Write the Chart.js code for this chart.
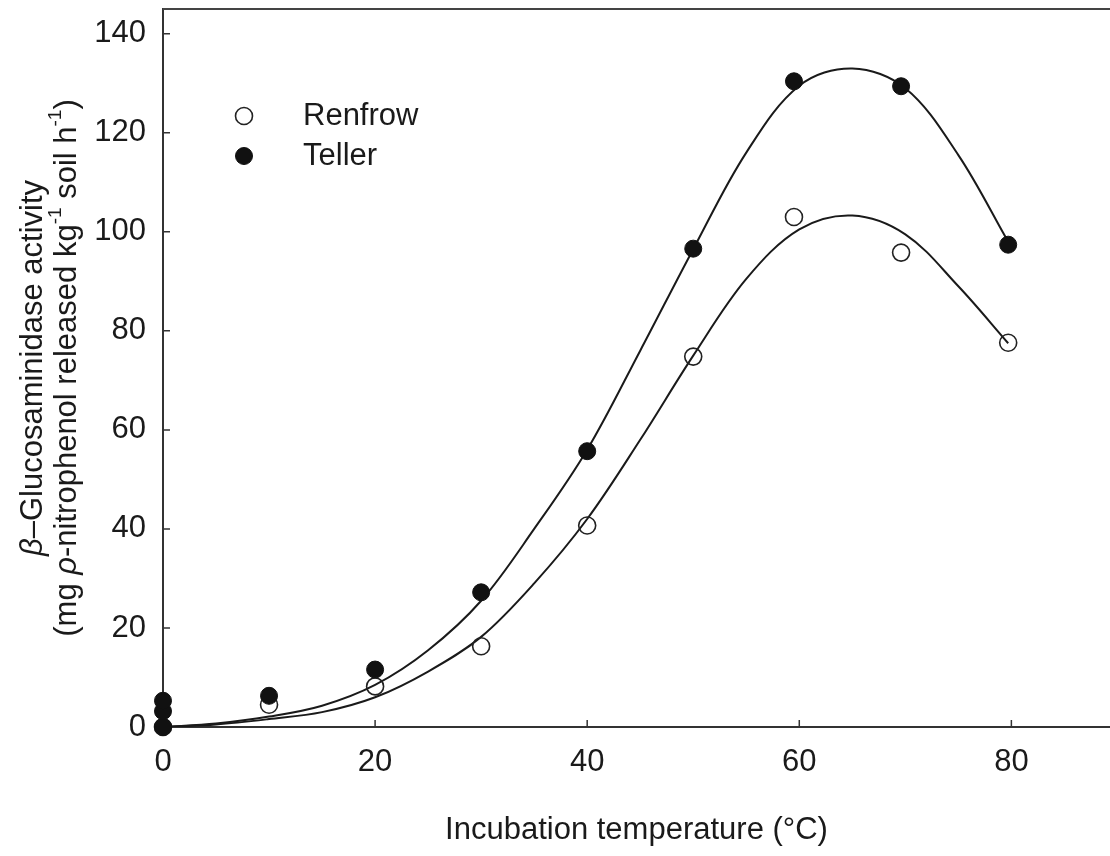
<!DOCTYPE html>
<html>
<head>
<meta charset="utf-8">
<title>beta-Glucosaminidase activity vs incubation temperature</title>
<script src="https://cdn.jsdelivr.net/npm/chart.js@4.4.0/dist/chart.umd.min.js"></script>
<style>
  html, body { margin: 0; padding: 0; background: #fff; overflow: hidden; }
  canvas { display: block; }
</style>
</head>
<body>
<canvas id="myChart" width="1110" height="856"></canvas>
<script>
// measured points
const renfrowTemp = [0, 10, 20, 30, 40, 50, 59.5, 69.6, 79.7];
const renfrowActivity = [0, 4.5, 8.2, 16.3, 40.7, 74.8, 103, 95.8, 77.6];
const tellerTemp = [0, 0, 0, 10, 20, 30, 40, 50, 59.5, 69.6, 79.7];
const tellerActivity = [0, 3.2, 5.3, 6.3, 11.6, 27.2, 55.7, 96.6, 130.4, 129.4, 97.4];

// fitted curves
const fitTemp = [0, 5, 10, 15, 20, 25, 30, 35, 40, 45, 50, 55, 60, 65, 70, 75, 79.7];
const tellerFit = [0, 0.7, 2.1, 4.3, 8.5, 15.5, 25.5, 40, 56, 76, 96.5, 116, 129.5, 133, 129, 115.5, 98];
const renfrowFit = [0, 0.5, 1.6, 3.0, 6.0, 11.2, 18.2, 29, 42, 58, 75, 90.5, 100.5, 103.3, 99.5, 89, 77.5];

const xTicks = [0, 20, 40, 60, 80];
const yTicks = [0, 20, 40, 60, 80, 100, 120, 140];

const fontFamily = '"Liberation Sans", Arial, Helvetica, sans-serif';
const ink = '#1a1a1a';

const toPoints = (xs, ys) => xs.map((x, i) => ({ x: x, y: ys[i] }));

// inward tick marks + top frame line
const framePlugin = {
  id: 'frame',
  beforeDatasetsDraw(chart) {
    const { ctx, chartArea, scales } = chart;
    ctx.save();
    ctx.strokeStyle = '#333';
    ctx.lineWidth = 1.5;
    ctx.beginPath();
    xTicks.forEach(v => {
      const px = scales.x.getPixelForValue(v);
      ctx.moveTo(px, chartArea.bottom);
      ctx.lineTo(px, chartArea.bottom - 7);
    });
    yTicks.forEach(v => {
      const py = scales.y.getPixelForValue(v);
      ctx.moveTo(chartArea.left, py);
      ctx.lineTo(chartArea.left + 7, py);
    });
    ctx.stroke();
    ctx.lineWidth = 2;
    ctx.strokeStyle = '#444';
    ctx.beginPath();
    ctx.moveTo(chartArea.left, chartArea.top);
    ctx.lineTo(chartArea.right, chartArea.top);
    ctx.stroke();
    ctx.restore();
  }
};

// legend in the upper left of the plot
const legendPlugin = {
  id: 'insideLegend',
  afterDatasetsDraw(chart) {
    const ctx = chart.ctx;
    const rows = [
      { ds: chart.data.datasets[1], y: 116 },
      { ds: chart.data.datasets[0], y: 156 }
    ];
    ctx.save();
    rows.forEach(r => {
      ctx.beginPath();
      ctx.arc(244, r.y, r.ds.pointRadius, 0, Math.PI * 2);
      ctx.fillStyle = r.ds.backgroundColor;
      ctx.fill();
      ctx.lineWidth = r.ds.borderWidth;
      ctx.strokeStyle = r.ds.borderColor;
      ctx.stroke();
      ctx.fillStyle = ink;
      ctx.font = '31px ' + fontFamily;
      ctx.textBaseline = 'middle';
      ctx.textAlign = 'left';
      ctx.fillText(r.ds.label, 303, r.y);
    });
    ctx.restore();
  }
};

// two-line y title with italic greek and superscripts
const yTitleLines = [
  [{ t: 'β', it: true }, { t: '–Glucosaminidase activity' }],
  [{ t: '(mg ' }, { t: 'ρ', it: true }, { t: '-nitrophenol released kg' }, { t: '-1', sup: true },
   { t: ' soil h' }, { t: '-1', sup: true }, { t: ')' }]
];

const partFont = p => (p.it ? 'italic ' : '') + (p.sup ? '19px ' : '31px ') + fontFamily;

const yTitlePlugin = {
  id: 'yTitle',
  afterDraw(chart) {
    const { ctx, chartArea } = chart;
    const cy = (chartArea.top + chartArea.bottom) / 2;
    const lineX = [33, 67];
    ctx.save();
    ctx.fillStyle = ink;
    ctx.textBaseline = 'middle';
    ctx.textAlign = 'left';
    yTitleLines.forEach((parts, li) => {
      let total = 0;
      parts.forEach(p => { ctx.font = partFont(p); p.w = ctx.measureText(p.t).width; total += p.w; });
      ctx.save();
      ctx.translate(lineX[li], cy);
      ctx.rotate(-Math.PI / 2);
      let x = -total / 2;
      parts.forEach(p => {
        ctx.font = partFont(p);
        ctx.fillText(p.t, x, p.sup ? -11 : 0);
        x += p.w;
      });
      ctx.restore();
    });
    ctx.restore();
  }
};

const ctx = document.getElementById('myChart').getContext('2d');

new Chart(ctx, {
  type: 'scatter',
  data: {
    datasets: [
      {
        label: 'Teller',
        data: toPoints(tellerTemp, tellerActivity),
        pointRadius: 8.5,
        pointHoverRadius: 8.5,
        backgroundColor: '#111',
        borderColor: '#111',
        borderWidth: 1,
        clip: false,
        order: 0
      },
      {
        label: 'Renfrow',
        data: toPoints(renfrowTemp, renfrowActivity),
        pointRadius: 8.5,
        pointHoverRadius: 8.5,
        backgroundColor: 'rgba(255,255,255,0)',
        borderColor: '#222',
        borderWidth: 1.6,
        clip: false,
        order: 1
      },
      {
        label: 'Teller fit',
        data: toPoints(fitTemp, tellerFit),
        showLine: true,
        pointRadius: 0,
        borderColor: ink,
        borderWidth: 2,
        tension: 0.35,
        order: 2
      },
      {
        label: 'Renfrow fit',
        data: toPoints(fitTemp, renfrowFit),
        showLine: true,
        pointRadius: 0,
        borderColor: ink,
        borderWidth: 2,
        tension: 0.35,
        order: 3
      }
    ]
  },
  options: {
    responsive: false,
    animation: false,
    devicePixelRatio: 1,
    layout: { autoPadding: false, padding: { top: 9, right: 0, bottom: 0, left: 0 } },
    plugins: {
      legend: { display: false },
      tooltip: { enabled: false }
    },
    scales: {
      x: {
        type: 'linear',
        min: 0,
        max: 89.3,
        afterBuildTicks: scale => { scale.ticks = xTicks.map(v => ({ value: v })); },
        afterFit: scale => {
          scale.height = 129;
          scale.paddingLeft = 0;
          scale.paddingRight = 0;
        },
        grid: { display: false },
        border: { display: true, color: '#333', width: 2 },
        ticks: {
          padding: 9,
          color: ink,
          font: { family: fontFamily, size: 31 }
        },
        title: {
          display: true,
          text: 'Incubation temperature (°C)',
          color: ink,
          font: { family: fontFamily, size: 31 },
          padding: { top: 0, bottom: 7 }
        }
      },
      y: {
        min: 0,
        max: 145,
        afterBuildTicks: scale => { scale.ticks = yTicks.map(v => ({ value: v })); },
        afterFit: scale => {
          scale.width = 163;
          scale.paddingTop = 0;
          scale.paddingBottom = 0;
        },
        grid: { display: false },
        border: { display: true, color: '#333', width: 2 },
        ticks: {
          padding: 9,
          color: ink,
          font: { family: fontFamily, size: 31 }
        }
      }
    }
  },
  plugins: [framePlugin, legendPlugin, yTitlePlugin]
});
</script>
</body>
</html>
